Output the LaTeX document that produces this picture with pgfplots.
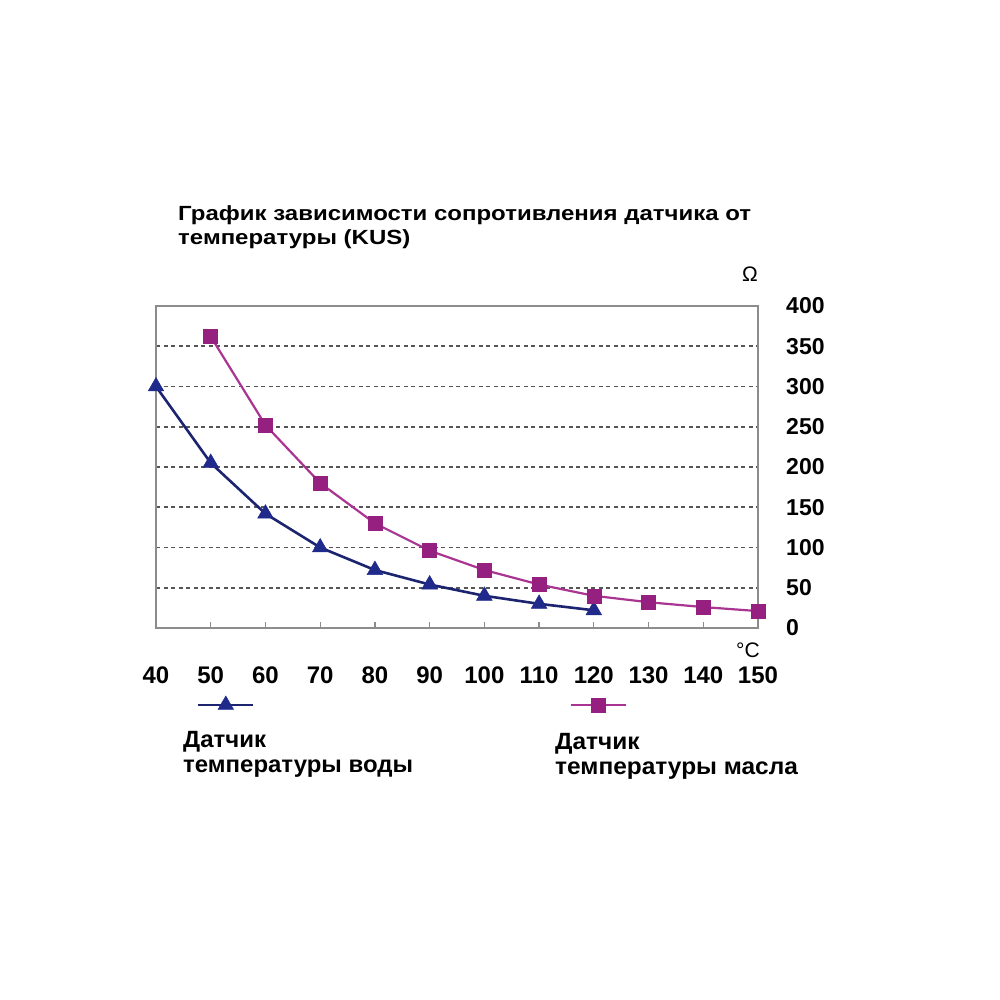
\documentclass[border=0pt]{standalone}
\usepackage{pgfplots}
\pgfplotsset{compat=1.18}
\usepackage{fontspec}
\setmainfont{Liberation Sans}

\definecolor{waterline}{RGB}{28,36,112}
\definecolor{watermark}{RGB}{32,42,138}
\definecolor{oilline}{RGB}{170,52,145}
\definecolor{oilmark}{RGB}{150,32,128}
\definecolor{framegray}{RGB}{140,140,140}
\definecolor{gridgray}{RGB}{85,85,85}

\pgfplotstableread{
t   r
40  300
50  205
60  142
70  100
80  72
90  54
100 40
110 30
120 22
}\water

\pgfplotstableread{
t   r
50  362
60  252
70  180
80  130
90  96
100 72
110 54
120 40
130 32
140 26
150 21
}\oil

\begin{document}
\begin{tikzpicture}[x=1pt,y=1pt]
\path[use as bounding box] (0pt,0pt) rectangle (1000pt,1000pt);

\begin{axis}[
  at={(156pt,372pt)}, anchor=south west,
  width=602pt, height=322pt, scale only axis,
  xmin=40, xmax=150, ymin=0, ymax=400,
  xtick={40,50,...,150}, ytick={0,50,...,400},
  axis line style={draw=framegray, line width=1.5pt},
  tick align=inside,
  major tick length=6pt,
  x tick style={draw=framegray, line width=1.3pt},
  y tick style={draw=none},
  xtick pos=bottom,
  yticklabel pos=right,
  ymajorgrids,
  grid style={gridgray, line width=1.8pt, dash pattern=on 4pt off 3.5pt},
  /pgf/number format/assume math mode=true,
  xticklabel style={font=\fontsize{24}{27}\selectfont\bfseries, inner sep=0pt, anchor=base, yshift=-56pt},
  yticklabel style={font=\fontsize{23}{26}\selectfont\bfseries, inner sep=0pt, anchor=west, xshift=28pt},
  clip=false,
  legend columns=2,
  legend style={draw=none, fill=none, inner sep=0pt, outer sep=0pt,
    at={(0.0681,-0.236)}, anchor=west,
    nodes={inner sep=0pt, outer sep=0pt, text width=315pt}},
  legend image code/.code={
    \draw[#1, mark repeat=2, mark phase=2] plot coordinates {(0pt,0pt) (27.5pt,0pt) (55pt,0pt)};
  },
]
\addplot[waterline, line width=2.6pt, mark=triangle*, mark size=9pt,
  mark options={fill=watermark, draw=watermark, line width=0.5pt}]
  table[x=t, y=r] {\water};
\addlegendentry{}
\addplot[oilline, line width=2.2pt, mark=square*, mark size=7pt,
  mark options={fill=oilmark, draw=oilmark, line width=0.5pt}]
  table[x=t, y=r] {\oil};
\addlegendentry{}
\end{axis}

\node[anchor=base west, font=\fontsize{20.5}{24}\selectfont\bfseries, inner sep=0pt, xscale=1.17] at (178pt,779pt) {График зависимости сопротивления датчика от};
\node[anchor=base west, font=\fontsize{20.5}{24}\selectfont\bfseries, inner sep=0pt, xscale=1.17] at (178pt,755pt) {температуры (KUS)};

\node[font=\fontsize{21}{24}\selectfont] at (750pt,726pt) {Ω};
\node[font=\fontsize{21}{24}\selectfont] at (748pt,350pt) {°C};

\node[anchor=base west, font=\fontsize{23.5}{26}\selectfont\bfseries, inner sep=0pt, xscale=1.02] at (183pt,252pt) {Датчик};
\node[anchor=base west, font=\fontsize{23.5}{26}\selectfont\bfseries, inner sep=0pt, xscale=1.02] at (183pt,227pt) {температуры воды};
\node[anchor=base west, font=\fontsize{23.5}{26}\selectfont\bfseries, inner sep=0pt, xscale=1.04] at (555pt,250pt) {Датчик};
\node[anchor=base west, font=\fontsize{23.5}{26}\selectfont\bfseries, inner sep=0pt, xscale=1.04] at (555pt,225pt) {температуры масла};
\end{tikzpicture}
\end{document}
